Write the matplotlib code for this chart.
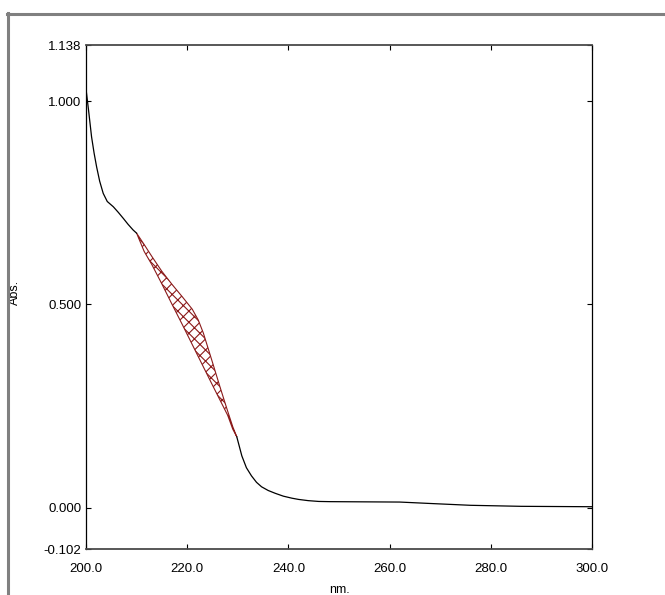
import matplotlib.pyplot as plt
from matplotlib.lines import Line2D

plt.rcParams['font.family'] = ['Liberation Sans', 'DejaVu Sans']

# spectrum (black line), split around the hatched band
wl_short = [200.0, 200.5, 201.1, 201.6, 202.1, 202.7, 203.4, 204.2, 205.4,
            206.4, 207.4, 208.3, 209.3, 210.0]
abs_short = [1.030, 0.978, 0.912, 0.872, 0.838, 0.803, 0.773, 0.753, 0.740,
             0.726, 0.711, 0.697, 0.683, 0.675]

wl_long = [229.8, 230.8, 231.7, 232.7, 233.7, 234.7, 236.0, 237.4, 239.0,
           240.7, 242.0, 243.9, 246.0, 248.2, 255.0, 262.0, 268.0, 276.0,
           286.0, 300.0]
abs_long = [0.174, 0.127, 0.098, 0.078, 0.062, 0.051, 0.042, 0.035, 0.028,
            0.023, 0.020, 0.017, 0.015, 0.0145, 0.014, 0.0135, 0.010, 0.0055,
            0.003, 0.002]

# hatched band (upper / lower limits)
band_wl = [210.0, 211.5, 213.0, 215.0, 217.0, 219.0, 221.0, 222.2, 223.2,
           225.0, 226.5, 228.0, 229.0, 229.8]
band_upper = [0.675, 0.647, 0.618, 0.581, 0.549, 0.519, 0.488, 0.461, 0.429,
              0.357, 0.296, 0.237, 0.199, 0.174]
band_lower = [0.675, 0.630, 0.598, 0.550, 0.500, 0.451, 0.401, 0.371, 0.346,
              0.301, 0.264, 0.227, 0.193, 0.174]

x_ticks = [200, 220, 240, 260, 280, 300]
y_ticks = [-0.102, 0.0, 0.5, 1.0, 1.138]

fig = plt.figure(figsize=(6.65, 5.95), dpi=100)
ax = fig.add_axes([86 / 665, 1 - 549 / 595, 506 / 665, 504 / 595])

ax.plot(wl_short, abs_short, color='black', lw=0.9)
ax.plot(wl_long, abs_long, color='black', lw=0.9)
plt.rcParams['hatch.linewidth'] = 0.8
ax.fill_between(band_wl, band_lower, band_upper, facecolor='none',
                edgecolor='#8b1a1a', hatch='xxx', linewidth=0.8)

ax.set_xlim(200, 300)
ax.set_ylim(-0.102, 1.138)
ax.set_xticks(x_ticks)
ax.set_xticklabels([f"{v:.1f}" for v in x_ticks])
ax.set_yticks(y_ticks)
ax.set_yticklabels([f"{v:.3f}" for v in y_ticks])

ax.tick_params(direction='in', length=3.6, width=0.8, labelsize=9.5,
               top=True, right=True, colors='black')
ax.tick_params(axis='x', pad=10)
ax.tick_params(axis='y', pad=3.5)

for side in ['top', 'bottom']:
    ax.spines[side].set_linewidth(1.3)
    ax.spines[side].set_color('#4a4a4a')
for side in ['left', 'right']:
    ax.spines[side].set_linewidth(0.9)
    ax.spines[side].set_color('black')

ax.set_xlabel("nm.", fontsize=9)
ax.xaxis.set_label_coords(0.5, -0.069)
ax.set_ylabel("Abs.", fontsize=9)
ax.yaxis.set_label_coords(-0.128, 0.51)

# grey window frame (top and left)
fig.add_artist(Line2D([7 / 665, 1.0], [1 - 14 / 595, 1 - 14 / 595],
                      color='#808080', lw=2.2, transform=fig.transFigure))
fig.add_artist(Line2D([8 / 665, 8 / 665], [0.0, 1 - 13 / 595],
                      color='#808080', lw=2.2, transform=fig.transFigure))

fig.savefig("out.png", dpi=100)
